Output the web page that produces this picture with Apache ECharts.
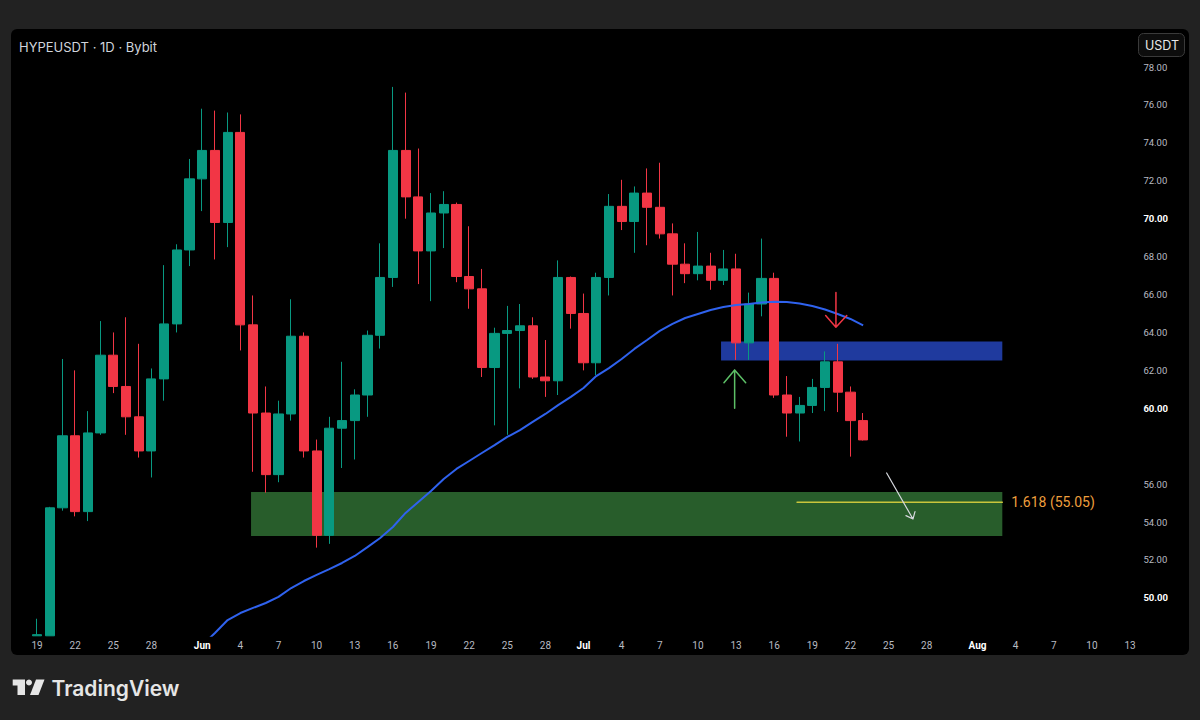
<!DOCTYPE html>
<html><head><meta charset="utf-8">
<script src="https://cdn.jsdelivr.net/npm/echarts@6/dist/echarts.min.js"></script>
<style>html,body{margin:0;padding:0;background:#222222;}#c{width:1200px;height:720px;}</style>
</head><body><div id="c"></div>
<script>
// ---- axis domain ----
const axisStart = [2025, 4, 18];   // May 18, 2025 (category axis start)
const axisDays = 88;               // through Aug 13
const monthNames = ['Jan','Feb','Mar','Apr','May','Jun','Jul','Aug','Sep','Oct','Nov','Dec'];
const yTicksBold = [50, 60, 70, 80];
const yTicksHidden = [58];         // covered by the last-price tag in the reference

// ---- daily candles May 19 .. Jul 23 ----
const open  = [48.0,48.0,54.75,58.55,54.55,58.7,62.8,61.15,59.55,57.75,61.55,64.45,68.35,72.1,73.6,69.8,74.55,64.4,59.75,56.5,59.7,63.8,57.75,53.3,58.95,59.35,60.7,63.85,66.9,73.6,71.15,68.3,70.3,70.75,66.95,66.3,62.15,63.95,64.1,64.35,61.65,61.45,66.9,65.0,62.4,66.9,70.65,69.85,71.35,70.6,69.2,67.6,67.1,67.5,66.75,67.35,63.45,65.5,66.85,60.7,59.75,60.15,61.1,62.45,60.85,59.35];
const close = [48.06,54.75,58.55,54.55,58.7,62.8,61.15,59.55,57.75,61.55,64.45,68.35,72.1,73.6,69.8,74.55,64.4,59.75,56.5,59.7,63.8,57.75,53.3,58.95,59.35,60.7,63.85,66.9,73.6,71.15,68.3,70.3,70.75,66.95,66.3,62.15,63.95,64.1,64.35,61.65,61.45,66.9,65.0,62.4,66.9,70.65,69.85,71.35,70.6,69.2,67.6,67.1,67.5,66.75,67.35,63.45,65.5,66.85,60.7,59.75,60.15,61.1,62.45,60.85,59.35,58.33];
const low   = [48.0,48.0,54.6,54.3,54.05,58.6,60.8,58.6,57.4,56.35,60.4,64.0,67.5,70.4,67.85,68.5,63.05,56.65,55.55,56.1,59.35,57.4,52.65,52.85,56.85,57.3,59.55,63.15,66.4,70.0,66.55,65.65,68.45,66.65,65.25,61.65,59.1,58.6,61.05,61.55,60.6,60.7,64.2,62.0,61.75,65.95,69.4,68.2,68.6,68.95,65.95,66.6,66.75,66.25,66.5,62.55,62.55,64.85,60.55,58.5,58.25,59.75,59.85,59.8,57.45,58.3];
const high  = [48.9,54.8,62.6,62.0,59.85,64.6,64.0,64.8,63.4,62.1,67.55,68.65,73.15,75.8,75.7,75.6,75.5,65.95,61.15,60.4,65.75,64.0,58.35,59.55,62.45,61.0,64.1,68.7,76.95,76.65,73.7,71.35,71.45,70.85,69.6,67.35,64.25,65.4,65.5,64.8,63.6,67.8,66.95,66.05,67.15,71.3,72.05,71.7,72.65,72.95,69.75,68.7,69.3,68.2,68.35,68.15,66.1,68.95,67.15,61.7,60.6,61.55,63.0,63.4,61.15,59.75];

// ---- moving average, Jun 1 .. Jul 23 ----
const maStartIndex = 13; // Jun 1 (days after May 19)
const ma = [47.5,48.15,48.83,49.2,49.47,49.73,50.05,50.52,50.89,51.21,51.52,51.84,52.21,52.68,53.16,53.74,54.48,55.06,55.64,56.27,56.8,57.22,57.64,58.06,58.49,58.85,59.28,59.7,60.17,60.6,61.07,61.7,62.12,62.6,63.13,63.6,64.08,64.45,64.76,64.97,65.18,65.34,65.45,65.5,65.58,65.62,65.6,65.53,65.39,65.21,64.97,64.71,64.37];
const lastPrice = 58.33, lastTimer = '16:15:20', maLast = 64.38;

// ---- drawings (x in days after May 19, y in price) ----
const zoneGreen = [16.84, 53.26, 75.95, 55.58];
const zoneBlue  = [53.82, 62.52, 75.95, 63.52];
const fibLine   = [[59.8, 55.05], [75.95, 55.05]];
const fibText   = '1.618 (55.05)';
const arrowRed   = [[62.86, 66.10], [62.86, 64.27], [62.05, 64.89], [62.86, 64.27], [63.71, 64.89]];
const arrowGreen = [[54.89, 60.0], [54.89, 62.02], [54.05, 61.35], [54.89, 62.02], [55.76, 61.35]];
const arrowWhite = [[66.85, 56.59], [68.92, 54.16], [68.37, 54.34], [68.92, 54.16], [69.08, 54.55]];

// ---- build ----
const categories = [];
for (let i = 0; i < axisDays; i++) {
  const d = new Date(Date.UTC(axisStart[0], axisStart[1], axisStart[2] + i));
  categories.push(d.toISOString().slice(0, 10));
}
function tickOf(v) {
  const m = +v.slice(5, 7), d = +v.slice(8, 10);
  if (d === 1) return '{m|' + monthNames[m - 1] + '}';
  if (d <= 28 && (d - 1) % 3 === 0) return String(d);
  return null;
}
const candleData = open.map((o, i) => [i + 1, o, close[i], low[i], high[i]]);
const maData = ma.map((v, i) => [maStartIndex + i + 1, v]);

const chart = echarts.init(document.getElementById('c'), null, {renderer: 'svg', width: 1200, height: 720});
const gridLeft = 17.94, gridRight = 63.6, gridTop = 29.08, gridBottom = 84.2;

function zoneSeries(rect, color) {
  return {
    type: 'custom', xAxisIndex: 1, yAxisIndex: 0, z: 1, silent: true,
    data: [rect],
    renderItem: function (params, api) {
      const p0 = api.coord([api.value(0), api.value(3)]);
      const p1 = api.coord([api.value(2), api.value(1)]);
      return {type: 'rect', shape: {x: p0[0], y: p0[1], width: p1[0] - p0[0], height: p1[1] - p0[1]}, style: {fill: color}};
    }
  };
}
function lineSeries(data, color, width, z) {
  return {
    type: 'line', xAxisIndex: 1, yAxisIndex: 0, data: data, symbol: 'none', silent: true, z: z || 8,
    lineStyle: {color: color, width: width, join: 'round', cap: 'round'}
  };
}

const option = {
  animation: false,
  backgroundColor: '#222222',
  graphic: [
    {type: 'rect', z: -10, shape: {x: 11, y: 29, width: 1178, height: 626, r: 6}, style: {fill: '#000000'}},
    {type: 'text', z: 10, style: {text: 'HYPEUSDT · 1D · Bybit', x: 19, y: 47, fill: '#d1d4dc', font: '400 13px Inter, Roboto, sans-serif', verticalAlign: 'middle'}},
    {type: 'rect', z: 10, shape: {x: 1138.5, y: 33.5, width: 46, height: 23, r: 5}, style: {fill: '#0d0d0d', stroke: '#3a3a3a', lineWidth: 1}},
    {type: 'text', z: 11, style: {text: 'USDT', x: 1162, y: 45.5, fill: '#e8e8e8', font: '400 12.5px Inter, Roboto, sans-serif', align: 'center', verticalAlign: 'middle'}},
    {type: 'polygon', z: 10, shape: {points: [[12.7, 679.5], [25, 679.5], [25, 695], [17.5, 695], [17.5, 685.5], [12.7, 685.5]]}, style: {fill: '#e6e6e6'}},
    {type: 'circle', z: 10, shape: {cx: 29, cy: 682.5, r: 3}, style: {fill: '#e6e6e6'}},
    {type: 'polygon', z: 10, shape: {points: [[36, 679.5], [44.5, 679.5], [38.5, 695], [30, 695]]}, style: {fill: '#e6e6e6'}},
    {type: 'text', z: 10, style: {text: 'TradingView', x: 51.5, y: 688, fill: '#e6e6e6', font: '600 21px Inter, Roboto, sans-serif', verticalAlign: 'middle'}}
  ],
  grid: {left: gridLeft, right: gridRight, top: gridTop, bottom: gridBottom, containLabel: false},
  xAxis: [
    {
      type: 'category', data: categories, boundaryGap: true,
      axisLine: {show: false}, axisTick: {show: false}, splitLine: {show: false},
      axisLabel: {
        interval: function (i, v) { return tickOf(v) !== null; },
        formatter: function (v) { return tickOf(v) || ''; },
        color: '#b8bbc3', fontSize: 10, fontFamily: 'Roboto, sans-serif', margin: 5,
        rich: {m: {fontWeight: 'bold', color: '#ffffff', fontSize: 10, fontFamily: 'Roboto, sans-serif'}}
      }
    },
    {type: 'value', min: -1.5, max: 86.5, show: false}
  ],
  yAxis: {
    type: 'value', position: 'right', min: 48, max: 80, interval: 2, scale: true,
    axisLine: {show: false}, axisTick: {show: false}, splitLine: {show: false},
    axisLabel: {
      showMinLabel: false, showMaxLabel: false, margin: 7,
      formatter: function (v) {
        if (yTicksHidden.indexOf(v) >= 0) return '';
        return yTicksBold.indexOf(v) >= 0 ? '{b|' + v.toFixed(2) + '}' : '{n|' + v.toFixed(2) + '}';
      },
      rich: {
        n: {color: '#b8bbc3', fontSize: 9.5, fontFamily: 'Roboto, sans-serif'},
        b: {color: '#ffffff', fontSize: 9.5, fontWeight: 'bold', fontFamily: 'Roboto, sans-serif'}
      }
    }
  },
  series: [
    zoneSeries(zoneGreen, '#285d2b'),
    zoneSeries(zoneBlue, '#1f3a9e'),
    {
      type: 'candlestick', xAxisIndex: 0, yAxisIndex: 0, z: 5, silent: true,
      data: candleData, encode: {x: 0, y: [1, 2, 3, 4]},
      barWidth: '76%',
      itemStyle: {color: '#089981', color0: '#f23645', borderColor: '#089981', borderColor0: '#f23645', borderWidth: 1},
      markLine: {
        silent: true, symbol: 'none', animation: false,
        lineStyle: {opacity: 0},
        data: [{yAxis: lastPrice}],
        label: {
          show: true, position: 'end', distance: 0, offset: [0, 5],
          formatter: lastPrice.toFixed(2) + '\n' + lastTimer,
          backgroundColor: '#f23645', color: '#ffe9eb', fontSize: 10, lineHeight: 11,
          fontFamily: 'Roboto, sans-serif', padding: [0, 5, 0, 5]
        }
      }
    },
    {
      type: 'line', xAxisIndex: 0, yAxisIndex: 0, z: 6, data: maData, symbol: 'none', silent: true,
      lineStyle: {color: '#2f62ee', width: 2},
      markLine: {
        silent: true, symbol: 'none', animation: false,
        lineStyle: {opacity: 0},
        data: [{yAxis: maLast}],
        label: {
          show: true, position: 'end', distance: 0,
          formatter: maLast.toFixed(2),
          backgroundColor: '#2962ff', color: '#ffffff', fontSize: 10.5, lineHeight: 11,
          fontFamily: 'Roboto, sans-serif', padding: [0, 5, 0, 5]
        }
      }
    },
    Object.assign(lineSeries(fibLine, '#c9c53c', 1.5, 7), {
      markPoint: {
        silent: true, symbol: 'circle', symbolSize: 0,
        data: [{coord: fibLine[1]}],
        label: {show: true, position: 'right', distance: 9, formatter: fibText, color: '#ee9f3d', fontSize: 14, fontFamily: 'Roboto, sans-serif'}
      }
    }),
    lineSeries(arrowRed, '#f23645', 1.5, 9),
    lineSeries(arrowGreen, '#5cbf66', 1.5, 9),
    lineSeries(arrowWhite, '#d6d8de', 1.2, 9)
  ]
};
chart.setOption(option);
</script></body></html>
